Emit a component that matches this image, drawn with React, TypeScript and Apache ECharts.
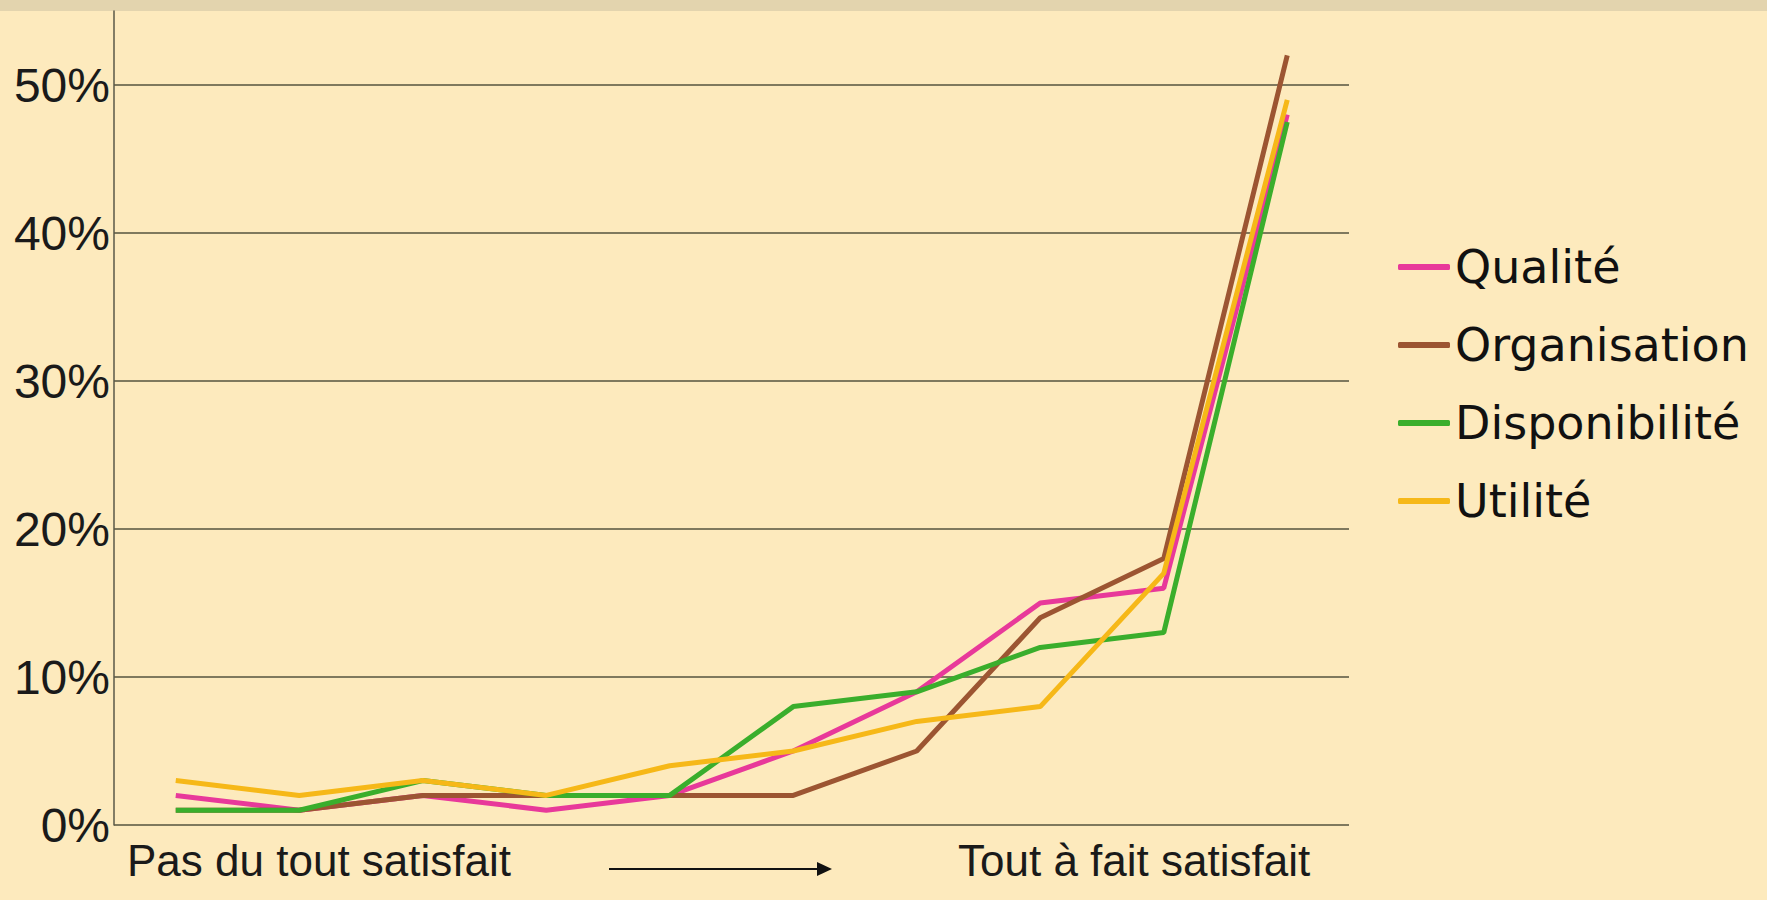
import React, { useEffect, useRef } from "react";
import * as echarts from "echarts";

const categories = ["1", "2", "3", "4", "5", "6", "7", "8", "9", "10"];
const qualite = [2, 1, 2, 1, 2, 5, 9, 15, 16, 48];
const organisation = [1, 1, 2, 2, 2, 2, 5, 14, 18, 52];
const disponibilite = [1, 1, 3, 2, 2, 8, 9, 12, 13, 47.5];
const utilite = [3, 2, 3, 2, 4, 5, 7, 8, 17, 49];
const seriesNames = ["Qualité", "Organisation", "Disponibilité", "Utilité"];
const seriesColors = ["#e8399a", "#9c5532", "#3aae2c", "#f6b818"];
const yTicks = [0, 10, 20, 30, 40, 50];
const leftLabel = "Pas du tout satisfait";
const rightLabel = "Tout à fait satisfait";

export default function App() {
  const ref = useRef<HTMLDivElement>(null);
  useEffect(() => {
    document.body.style.margin = "0";
    const chart = echarts.init(ref.current!, null, { renderer: "svg" });
    const data = [qualite, organisation, disponibilite, utilite];
    chart.setOption({
      animation: false,
      backgroundColor: "#fdeabd",
      grid: { left: 114, right: 418, top: 11, bottom: 75 },
      xAxis: {
        type: "category",
        data: categories,
        boundaryGap: true,
        axisLine: { show: false },
        axisTick: { show: false },
        axisLabel: { show: false },
        splitLine: { show: false },
      },
      yAxis: {
        type: "value",
        min: 0,
        max: 55,
        interval: 10,
        axisLine: { show: true, lineStyle: { color: "#5a5848", width: 1.5 } },
        axisTick: { show: false },
        axisLabel: {
          showMaxLabel: false,
          formatter: (v: number) => (yTicks.includes(v) ? v + "%" : ""),
          fontFamily: "Liberation Sans",
          fontSize: 48,
          color: "#1a1a1a",
          margin: 4,
          padding: [18, 0, 0, 0],
        },
        splitLine: {
          show: true,
          showMinLine: true,
          showMaxLine: false,
          lineStyle: { color: "#55533f", width: 1.5 },
        },
      },
      legend: {
        orient: "vertical",
        left: 1393,
        top: 239,
        itemWidth: 52,
        itemHeight: 6,
        itemGap: 32,
        icon: "roundRect",
        textStyle: { fontFamily: "DejaVu Sans", fontSize: 46, color: "#111" },
        data: seriesNames,
      },
      series: seriesNames.map((n, i) => ({
        name: n,
        type: "line",
        data: data[i],
        symbol: "none",
        color: seriesColors[i],
        lineStyle: { width: 5, color: seriesColors[i] },
      })),
      graphic: [
        {
          type: "rect",
          shape: { x: 0, y: 0, width: 1767, height: 11 },
          style: { fill: "#e3d4ae" },
        },
        {
          type: "text",
          left: 127,
          top: 838,
          style: { text: leftLabel, font: "44px 'Liberation Sans'", fill: "#1a1a1a" },
        },
        {
          type: "text",
          left: 958,
          top: 838,
          style: { text: rightLabel, font: "44px 'Liberation Sans'", fill: "#1a1a1a" },
        },
        {
          type: "line",
          shape: { x1: 609, y1: 869, x2: 820, y2: 869 },
          style: { stroke: "#111", lineWidth: 2 },
        },
        {
          type: "polygon",
          shape: { points: [[832, 869], [817, 862], [817, 876]] },
          style: { fill: "#111" },
        },
      ],
    });
    return () => chart.dispose();
  }, []);
  return <div ref={ref} style={{ position: "fixed", left: 0, top: 0, width: 1767, height: 900 }} />;
}
